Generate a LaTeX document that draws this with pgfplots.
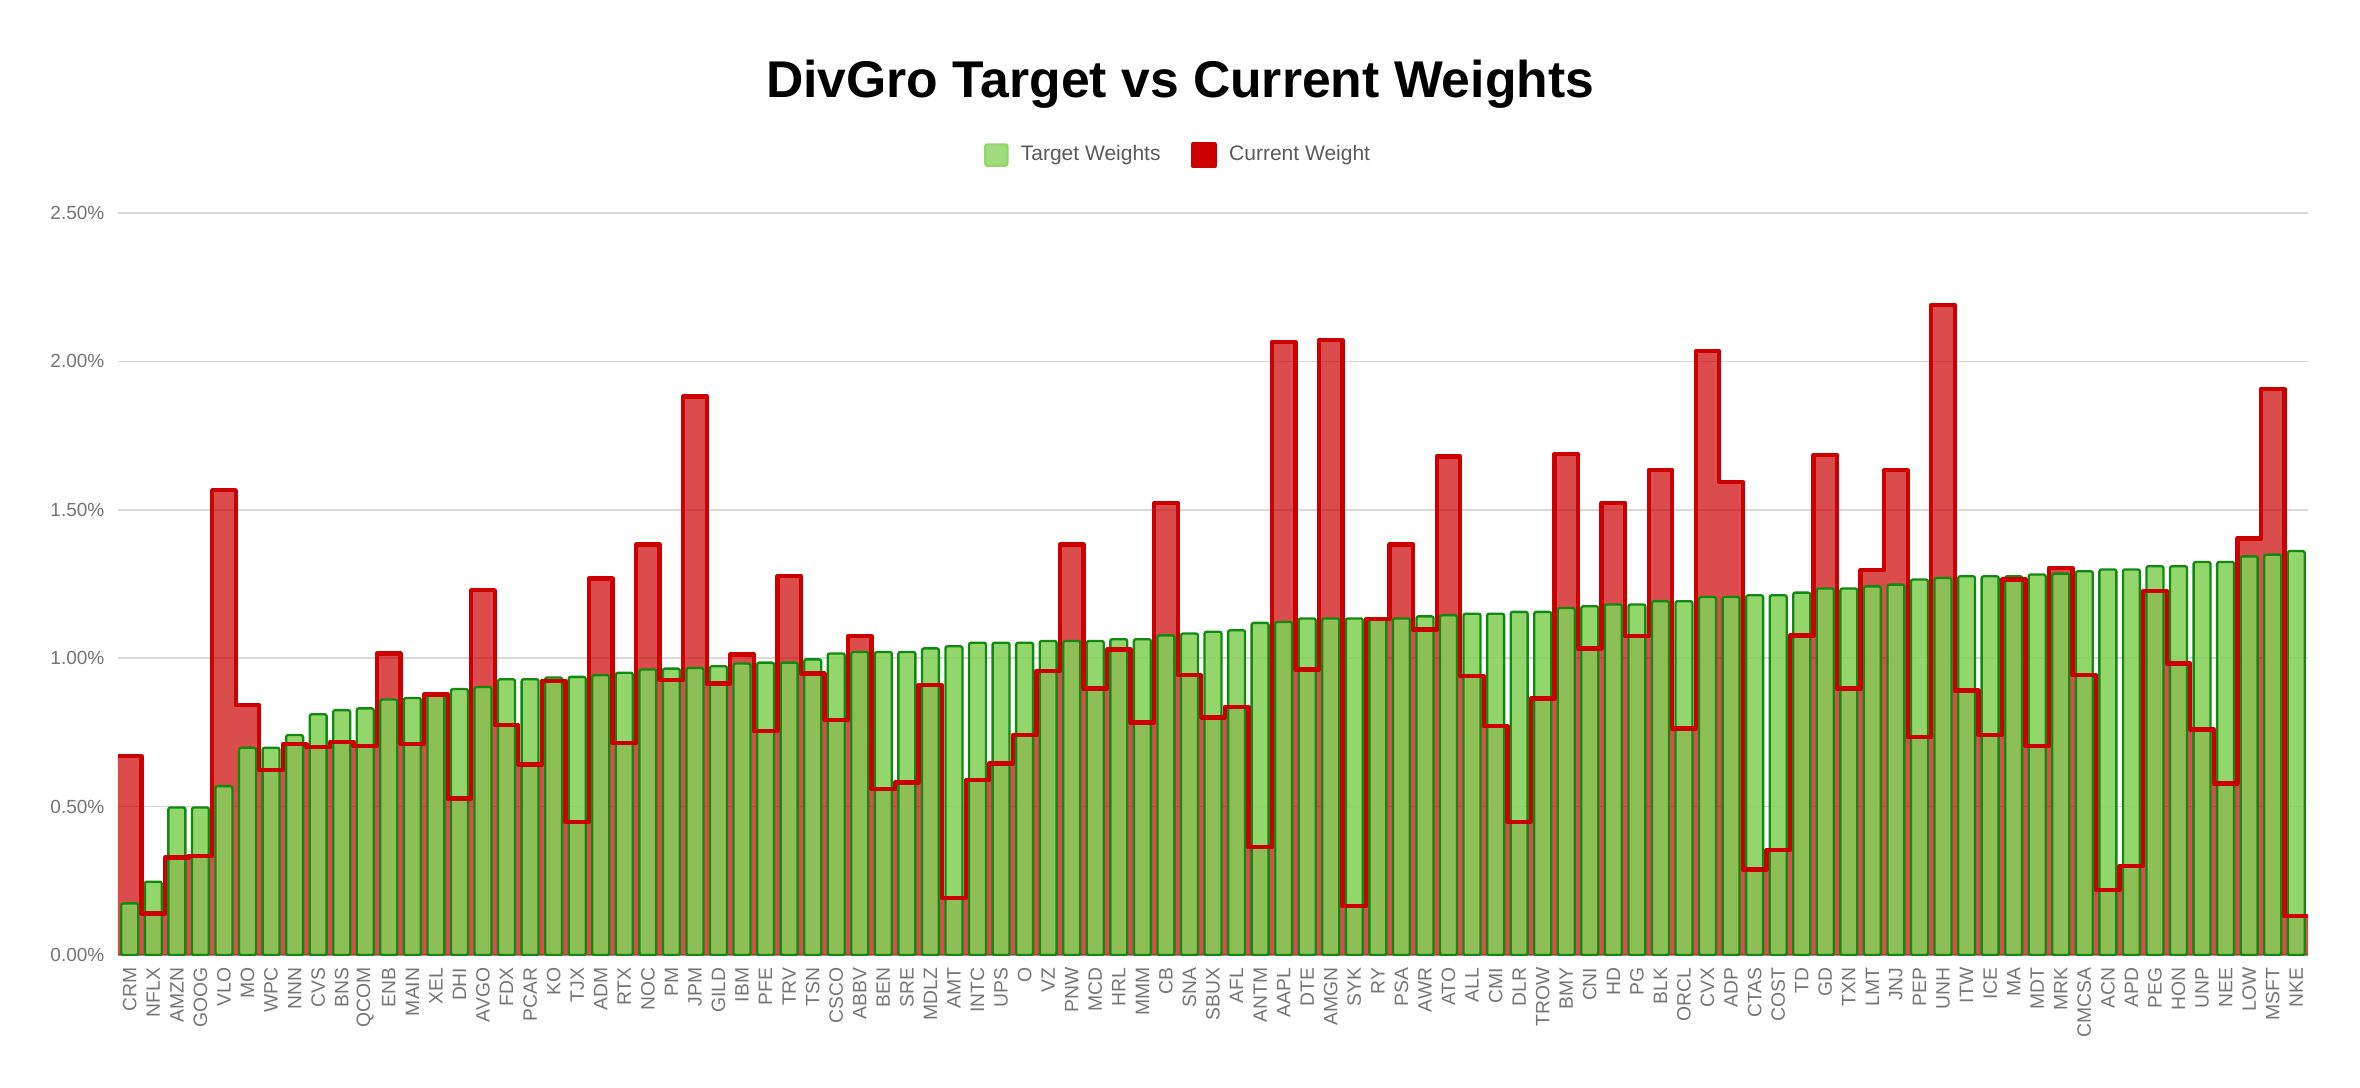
\documentclass[border=0pt]{standalone}
\usepackage{fontspec}
\setmainfont{Liberation Sans}
\usepackage{pgfplots}
\usepackage{pgfplotstable}
\pgfplotsset{compat=1.18}

\definecolor{greenfill}{RGB}{132,208,88}
\definecolor{greenline}{RGB}{16,138,16}
\definecolor{legendgreen}{RGB}{147,214,107}
\definecolor{redline}{RGB}{204,0,0}
\definecolor{gridgray}{RGB}{217,217,217}
\definecolor{axisgray}{RGB}{160,160,160}
\definecolor{textgray}{RGB}{117,117,117}
\definecolor{legendtext}{RGB}{90,90,90}

% x = category position, target and current weight in percent
% (last row only closes the stepped area at the right edge)
\pgfplotstableread{
x name target current
1 CRM 0.174 0.670
2 NFLX 0.247 0.140
3 AMZN 0.497 0.328
4 GOOG 0.497 0.334
5 VLO 0.569 1.566
6 MO 0.698 0.842
7 WPC 0.698 0.623
8 NNN 0.741 0.710
9 CVS 0.811 0.701
10 BNS 0.825 0.718
11 QCOM 0.831 0.704
12 ENB 0.861 1.016
13 MAIN 0.866 0.710
14 XEL 0.875 0.878
15 DHI 0.896 0.527
16 AVGO 0.903 1.229
17 FDX 0.929 0.774
18 PCAR 0.929 0.642
19 KO 0.935 0.924
20 TJX 0.937 0.449
21 ADM 0.943 1.268
22 RTX 0.951 0.715
23 NOC 0.962 1.383
24 PM 0.965 0.926
25 JPM 0.967 1.882
26 GILD 0.973 0.915
27 IBM 0.982 1.013
28 PFE 0.985 0.754
29 TRV 0.985 1.276
30 TSN 0.996 0.948
31 CSCO 1.016 0.791
32 ABBV 1.021 1.074
33 BEN 1.021 0.559
34 SRE 1.021 0.581
35 MDLZ 1.033 0.909
36 AMT 1.040 0.193
37 INTC 1.052 0.589
38 UPS 1.052 0.645
39 O 1.052 0.741
40 VZ 1.058 0.957
41 PNW 1.058 1.383
42 MCD 1.058 0.898
43 HRL 1.064 1.029
44 MMM 1.064 0.783
45 CB 1.077 1.523
46 SNA 1.083 0.943
47 SBUX 1.089 0.800
48 AFL 1.094 0.836
49 ANTM 1.119 0.363
50 AAPL 1.122 2.065
51 DTE 1.134 0.962
52 AMGN 1.134 2.071
53 SYK 1.134 0.165
54 RY 1.130 1.132
55 PSA 1.134 1.383
56 AWR 1.141 1.097
57 ATO 1.145 1.680
58 ALL 1.150 0.939
59 CMI 1.150 0.771
60 DLR 1.156 0.449
61 TROW 1.156 0.864
62 BMY 1.169 1.687
63 CNI 1.175 1.033
64 HD 1.181 1.523
65 PG 1.181 1.074
66 BLK 1.192 1.635
67 ORCL 1.192 0.763
68 CVX 1.206 2.034
69 ADP 1.206 1.594
70 CTAS 1.212 0.288
71 COST 1.212 0.354
72 TD 1.221 1.077
73 GD 1.235 1.684
74 TXN 1.235 0.898
75 LMT 1.242 1.298
76 JNJ 1.248 1.633
77 PEP 1.265 0.735
78 UNH 1.270 2.189
79 ITW 1.276 0.891
80 ICE 1.276 0.741
81 MA 1.276 1.265
82 MDT 1.282 0.704
83 MRK 1.285 1.304
84 CMCSA 1.293 0.943
85 ACN 1.299 0.219
86 APD 1.299 0.300
87 PEG 1.310 1.226
88 HON 1.310 0.982
89 UNP 1.324 0.760
90 NEE 1.324 0.578
91 LOW 1.343 1.403
92 MSFT 1.349 1.908
93 NKE 1.361 0.131
94 END nan 0.131
}\weights

\begin{document}
\begin{tikzpicture}
\path[use as bounding box] (-35.4pt,-39.6pt) rectangle (672.6pt,286.5pt);
\begin{axis}[
  at={(0,0)}, anchor=south west,
  scale only axis, width=657pt, height=222.6pt,
  xmin=0.5, xmax=93.5, ymin=0, ymax=2.5,
  xtick={1,...,93},
  xticklabels from table={\weights}{name},
  ytick={0,0.5,1,1.5,2,2.5},
  yticklabels={0.00\%,0.50\%,1.00\%,1.50\%,2.00\%,2.50\%},
  ymajorgrids,
  grid style={draw=gridgray, line width=0.45pt},
  axis x line*=bottom, axis y line*=left,
  x axis line style={draw=axisgray, line width=0.45pt},
  y axis line style={draw=none},
  major tick length=0pt, tick style={draw=none},
  xticklabel style={rotate=90, anchor=east, inner xsep=3.6pt, inner ysep=0pt,
    font=\fontsize{5.8}{6}\selectfont, text=textgray},
  yticklabel style={anchor=east, inner xsep=3.9pt, inner ysep=0pt,
    font=\fontsize{5.7}{6}\selectfont, text=textgray},
  title={DivGro Target vs Current Weights},
  title style={at={(0.485,1.147)}, anchor=center,
    font=\fontsize{15.5}{18}\selectfont\bfseries},
  legend style={at={(0.484,1.078)}, anchor=center, draw=none, fill=none,
    legend columns=-1, font=\fontsize{6.3}{7.5}\selectfont, text=legendtext,
    nodes={inner xsep=0.5pt, inner ysep=1pt},
    /tikz/every odd column/.append style={column sep=3.2pt},
    /tikz/every even column/.append style={column sep=8.5pt}},
]
% stepped area (fill only, behind the bars)
\addplot[const plot, draw=none, fill=redline, fill opacity=0.7, forget plot]
  table[x expr=\thisrow{x}-0.5, y=current] {\weights} \closedcycle;
% target bars
\addplot[ybar, bar width=0.72, fill=greenfill, fill opacity=0.88,
  draw=greenline, line width=0.7pt, rounded corners=0.6pt,
  legend image code/.code={\fill[legendgreen] (0pt,-3.2pt) rectangle (6.6pt,3.2pt);}]
  table[x=x, y=target] {\weights};
\addlegendentry{Target Weights}
% step line on top
\addplot[const plot, draw=redline, line width=1.3pt, line join=round,
  legend image code/.code={\fill[redline] (0pt,-3.2pt) rectangle (6.6pt,3.2pt);}]
  table[x expr=\thisrow{x}-0.5, y=current] {\weights};
\addlegendentry{Current Weight}
\end{axis}
\end{tikzpicture}
\end{document}
